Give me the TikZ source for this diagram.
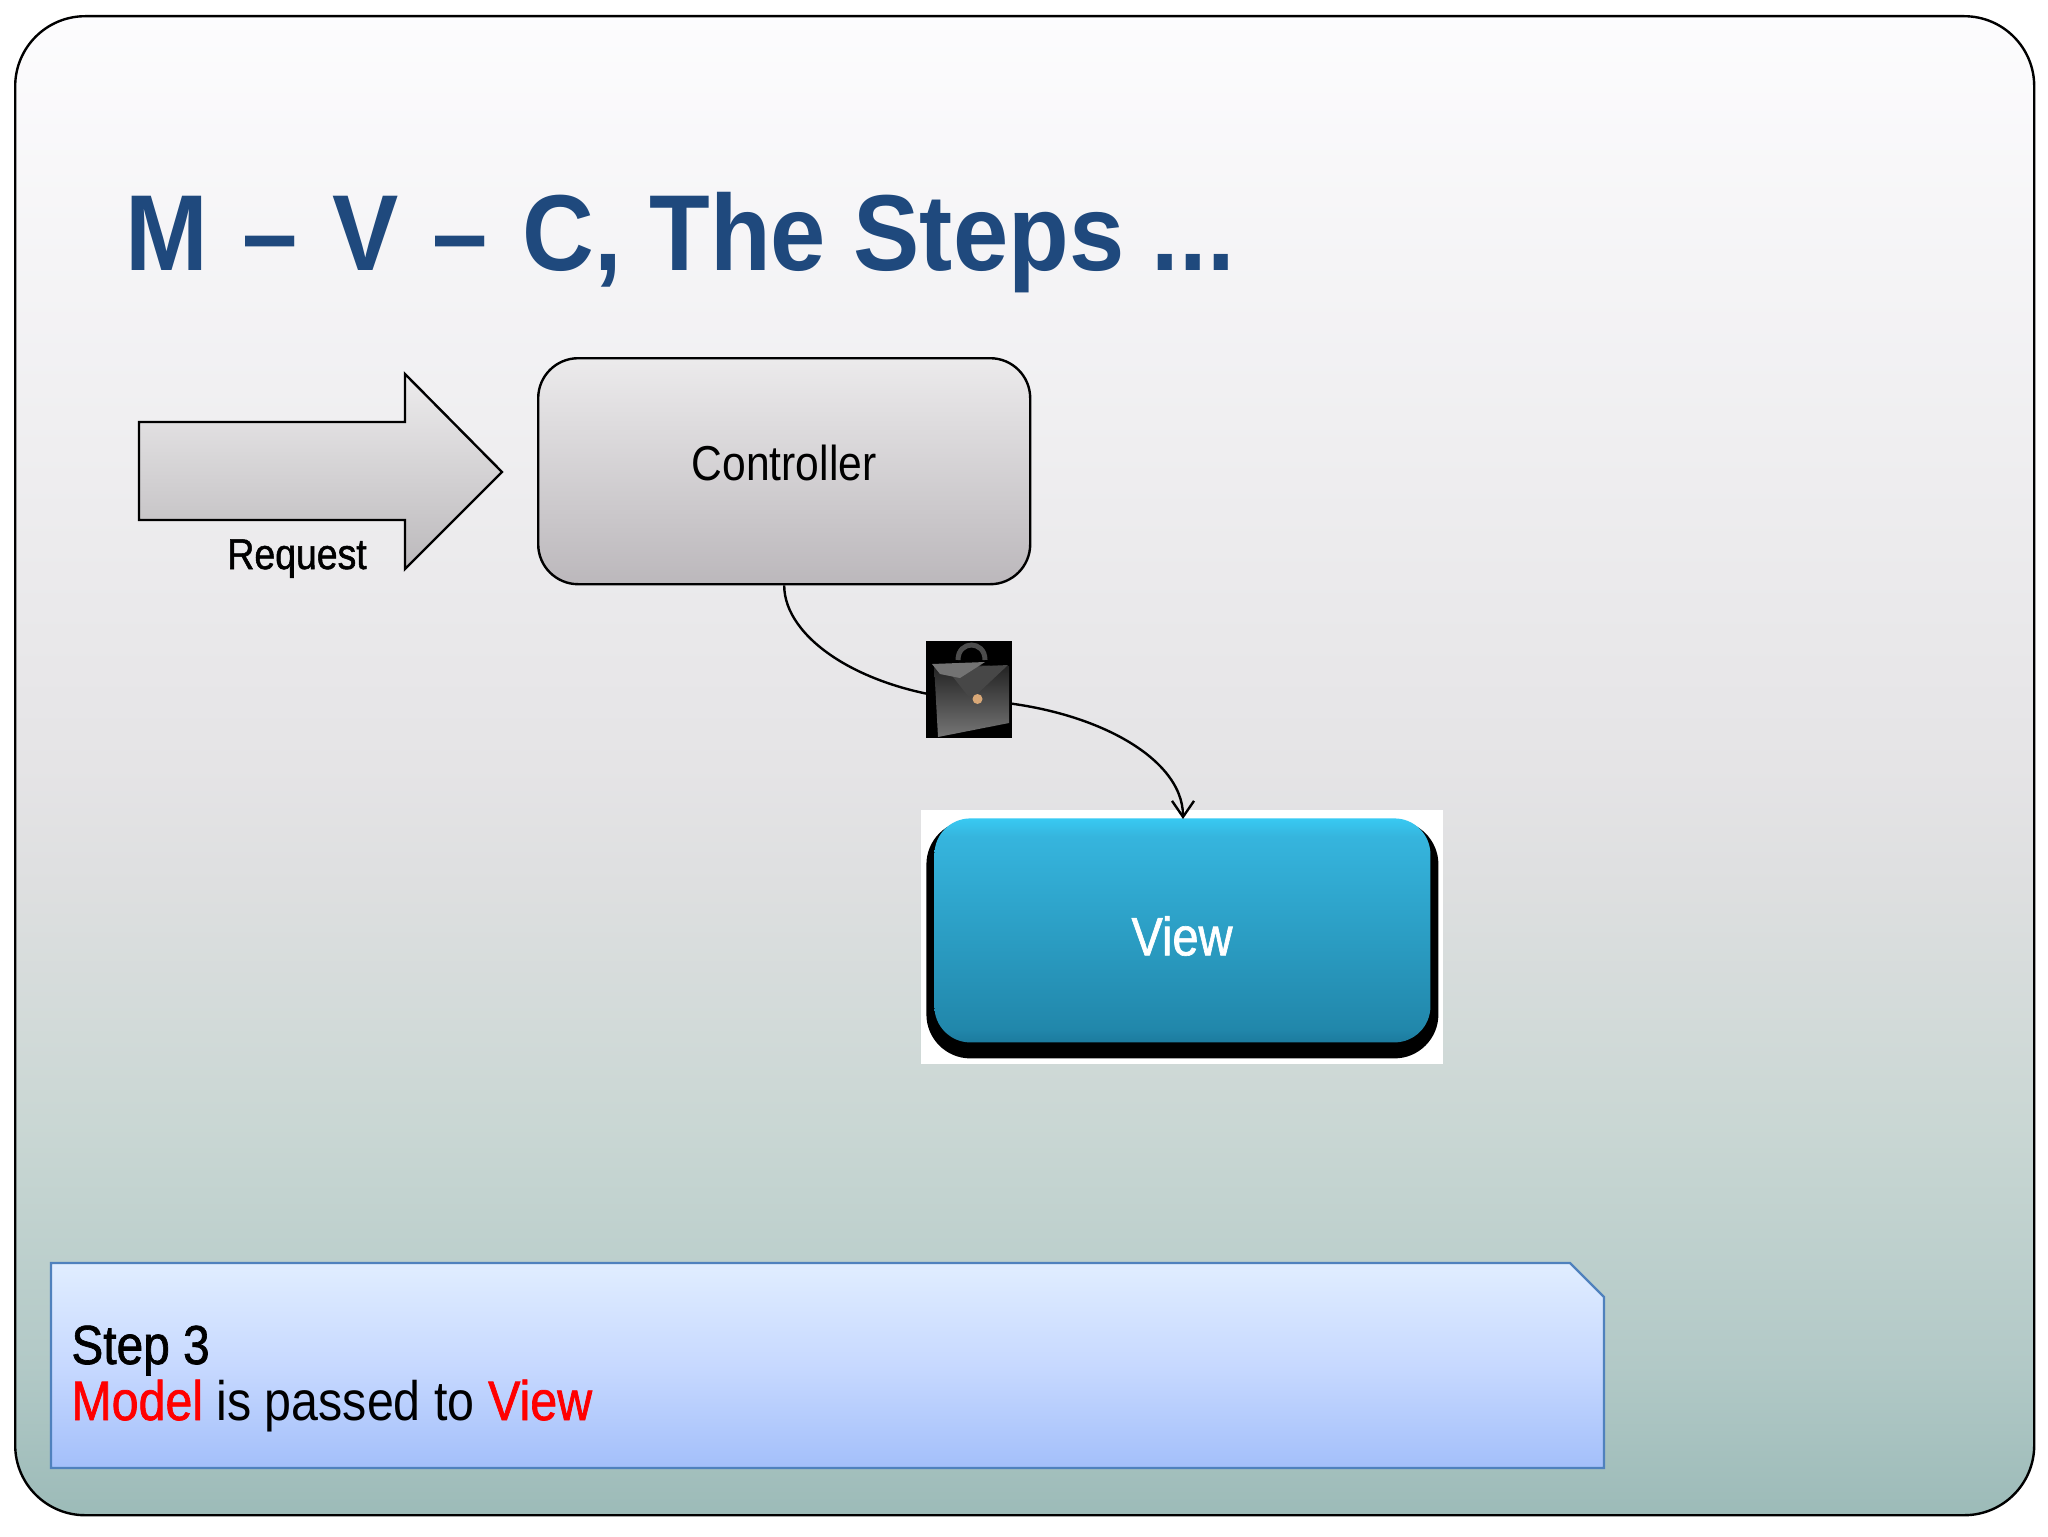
\documentclass[tikz,border=0pt]{standalone}
\usepackage{fontspec}
\setmainfont{Liberation Sans}
\newfontfamily\bodyf[FakeStretch=0.87]{Liberation Sans}
\newfontfamily\bodyb[FakeStretch=0.87,FakeBold=1.2]{Liberation Sans}
\newfontfamily\titlef[FakeStretch=0.92]{Liberation Sans Bold}
\usetikzlibrary{arrows.meta}
\definecolor{titleblue}{HTML}{1F497D}
\definecolor{stepline}{HTML}{4F81BD}
\pgfdeclareverticalshading{slidebg}{100bp}{
 rgb(0bp)=(0.612,0.733,0.722);
 rgb(25bp)=(0.612,0.733,0.722);
 rgb(30bp)=(0.698,0.788,0.780);
 rgb(37.5bp)=(0.785,0.840,0.827);
 rgb(46bp)=(0.870,0.875,0.878);
 rgb(50bp)=(0.898,0.894,0.902);
 rgb(75bp)=(0.990,0.988,0.995);
 rgb(100bp)=(0.990,0.988,0.995)}
\pgfdeclareverticalshading{greybox}{100bp}{
 rgb(0bp)=(0.735,0.720,0.735);
 rgb(25bp)=(0.735,0.720,0.735);
 rgb(75bp)=(0.925,0.920,0.925);
 rgb(100bp)=(0.925,0.920,0.925)}
\pgfdeclareverticalshading{greyarrow}{100bp}{
 rgb(0bp)=(0.735,0.725,0.735);
 rgb(25bp)=(0.735,0.725,0.735);
 rgb(75bp)=(0.930,0.925,0.930);
 rgb(100bp)=(0.930,0.925,0.930)}
\pgfdeclareverticalshading{bluebox}{100bp}{
 rgb(0bp)=(0.11,0.48,0.62);
 rgb(25bp)=(0.11,0.48,0.62);
 rgb(28bp)=(0.13,0.53,0.67);
 rgb(71bp)=(0.21,0.71,0.87);
 rgb(75bp)=(0.22,0.79,0.95);
 rgb(100bp)=(0.22,0.79,0.95)}
\pgfdeclareverticalshading{stepfill}{100bp}{
 rgb(0bp)=(0.64,0.75,0.98);
 rgb(25bp)=(0.64,0.75,0.98);
 rgb(50bp)=(0.78,0.85,1.0);
 rgb(75bp)=(0.88,0.93,1.0);
 rgb(100bp)=(0.88,0.93,1.0)}
\pgfdeclareverticalshading{caseshade}{100bp}{
 rgb(0bp)=(0.46,0.46,0.46);
 rgb(25bp)=(0.46,0.46,0.46);
 rgb(75bp)=(0.13,0.13,0.13);
 rgb(100bp)=(0.13,0.13,0.13)}
\tikzset{
 box/.style={rectangle,inner sep=0pt,anchor=north west},
 outline/.style={draw=black,line width=1.2pt},
 label/.style={inner sep=0pt,anchor=base west},
 link/.style={draw=black,line width=1.2pt},
}
\begin{document}
\begin{tikzpicture}[x=0.5pt,y=-0.5pt]
\useasboundingbox (0,0) rectangle (2048,1536);
\fill[white] (0,0) rectangle (2048,1536);
% slide
\node[box,outline,shading=slidebg,rounded corners=35pt,minimum width=1009.5pt,minimum height=749.5pt] (slide) at (14,15) {};
% title
\node[label,text=titleblue] (title) at (125,270) {\titlef\fontsize{54}{60}\selectfont M\hspace{3.4pt} – \hspace{3.4pt}V\hspace{3.4pt} – \hspace{3.4pt}C, The Steps ...};
% request arrow
\path[outline,shading=greyarrow] (139,422) -- (405,422) -- (405,374) -- (502,472) -- (405,569) -- (405,520) -- (139,520) -- cycle;
\node[label] (req) at (227,569) {\bodyb\fontsize{21.5}{24}\selectfont Request};
% controller
\node[box,outline,shading=greybox,rounded corners=20pt,minimum width=246pt,minimum height=113pt] (ctrl) at (537,357) {};
\node[inner sep=0pt] (ctrltext) at (784,463) {\bodyf\fontsize{24.5}{28}\selectfont Controller};
% view image
\node[box,fill=white,minimum width=261pt,minimum height=127pt] (viewbg) at (921,810) {};
\node[box,fill=black,rounded corners=22pt,minimum width=256pt,minimum height=119pt] (viewshadow) at (926,820) {};
\node[box,shading=bluebox,rounded corners=18pt,minimum width=248pt,minimum height=112pt] (view) at (934,818) {};
\node[inner sep=0pt,text=white] (viewtext) at (1182,936) {\bodyb\fontsize{27}{30}\selectfont View};
% connector with briefcase
\coordinate (mid) at (969,700);
\coordinate (viewtop) at (1183,819);
\draw[link] (ctrl.south) .. controls +(0,52) and (860,690) .. (mid);
\draw[link,-{Straight Barb[length=8pt,width=11pt,line width=1.2pt]}] (mid) .. controls (1085,704) and (1183,755) .. (viewtop);
% briefcase
\node[box,fill=black,minimum width=43pt,minimum height=48.5pt] (case) at (926,641) {};
\path[shading=caseshade] (934,664) -- (1009,666) -- (1009,723) -- (938,737) -- cycle;
\fill[black!72] (946,668) -- (1008,665) -- (975,696) -- (968,696) -- cycle;
\fill[black!55] (932,664) -- (985,662) -- (960,678) -- (940,674) -- cycle;
\draw[black!70,line width=2.5pt] (958,660) .. controls (958,640) and (985,640) .. (985,660);
\fill[orange!45!white!85!black] (977.5,699) circle (2.5pt);
% step box
\path[draw=stepline,line width=1.2pt,shading=stepfill] (51,1263) -- (1570,1263) -- (1604,1297) -- (1604,1468) -- (51,1468) -- cycle;
\node[label] (step) at (71,1364) {\bodyb\fontsize{27.5}{30}\selectfont Step 3};
\node[label] (stepbody) at (71,1420) {\bodyf\fontsize{27.8}{30}\selectfont {\bodyb\textcolor{red}{Model}} is passed to {\bodyb\textcolor{red}{View}}};
\end{tikzpicture}
\end{document}
